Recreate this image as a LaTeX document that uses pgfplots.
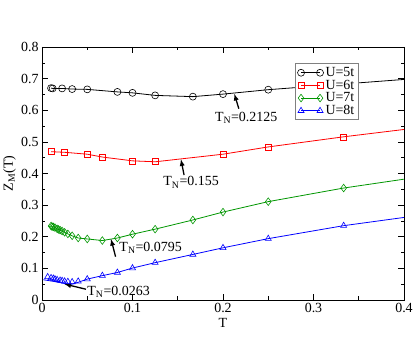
\documentclass[border=0pt]{standalone}
\usepackage{fontspec}
\setmainfont{Liberation Serif}
\usepackage{pgfplots}
\pgfplotsset{compat=1.18}
\usetikzlibrary{calc}

\definecolor{ggreen}{RGB}{0,150,0}

\begin{document}
\begin{tikzpicture}
\begin{axis}[
    name=ax,
    scale only axis,
    width=362bp, height=253bp,
    xmin=0, xmax=0.4,
    ymin=0, ymax=0.8,
    xtick={0,0.1,0.2,0.3,0.4},
    ytick={0,0.1,...,0.8},
    minor tick num=1,
    tick align=inside,
    major tick length=6bp,
    minor tick length=3.5bp,
    every tick/.style={black, line width=0.6bp},
    axis line style={line width=0.8bp},
    font=\fontsize{14}{16}\selectfont,
    /pgf/number format/assume math mode=true,
    /pgf/number format/.cd, fixed, precision=1,
    /pgfplots/.cd,
    xlabel={T},
    ylabel={Z\textsubscript{M}(T)},
    xlabel style={at={(axis description cs:0.5,-0.09)}, anchor=center},
    ylabel style={at={(axis description cs:-0.09,0.5)}, anchor=center},
    legend cell align=left,
    legend style={at={(rel axis cs:0.699,0.935)}, anchor=north west,
        draw=gray, line width=1bp, inner xsep=2bp, inner ysep=1.5bp,
        row sep=-2bp, font=\fontsize{14}{14}\selectfont},
    legend image code/.code={\draw plot coordinates {(0bp,0bp) (19bp,0bp)};},
    every axis plot/.append style={line width=0.8bp},
]
% U=5t
\addplot[black, mark=o, mark size=3.5bp, mark options={line width=0.6bp}] coordinates {
    (0.01,0.670) (0.0118,0.669) (0.0222,0.669) (0.0333,0.667) (0.05,0.666)
    (0.0833,0.658) (0.1,0.655) (0.125,0.647) (0.1667,0.643) (0.2,0.651)
    (0.25,0.665) (0.3333,0.683) (0.5,0.719)
};
\addlegendentry{U=5t}
% U=6t
\addplot[red, mark=square, mark size=3bp, mark options={line width=0.6bp}] coordinates {
    (0.01,0.469) (0.025,0.467) (0.05,0.461) (0.0667,0.452) (0.1,0.440)
    (0.125,0.437) (0.2,0.461) (0.25,0.484) (0.3333,0.516) (0.5,0.574)
};
\addlegendentry{U=6t}
% U=7t
\addplot[ggreen, mark=diamond, mark size=3.8bp, mark options={line width=0.6bp}] coordinates {
    (0.01,0.234) (0.0111,0.232) (0.0125,0.231) (0.0143,0.229) (0.0167,0.225)
    (0.0182,0.223) (0.02,0.221) (0.0222,0.218) (0.025,0.214) (0.0286,0.209)
    (0.0333,0.203) (0.04,0.196) (0.05,0.193) (0.0667,0.188) (0.0833,0.196)
    (0.1,0.208) (0.125,0.224) (0.1667,0.253) (0.2,0.278) (0.25,0.311)
    (0.3333,0.354) (0.5,0.424)
};
\addlegendentry{U=7t}
% U=8t
\addplot[blue, mark=triangle, mark size=3.5bp, mark options={line width=0.6bp}] coordinates {
    (0.05,0.066) (0.0667,0.077) (0.0833,0.087) (0.1,0.101) (0.125,0.118)
    (0.1667,0.144) (0.2,0.165) (0.25,0.194) (0.3333,0.235) (0.5,0.300)
};
\addlegendentry{U=8t}
\addplot[blue, no marks, forget plot] coordinates {
    (0.0015,0.064) (0.0125,0.059) (0.025,0.052) (0.033,0.050) (0.04,0.056) (0.05,0.066)
};
\addplot[blue, only marks, mark=triangle, mark size=3.5bp, mark options={line width=0.6bp}, forget plot] coordinates {
    (0.00625,0.073) (0.01,0.070) (0.0125,0.068) (0.0143,0.066) (0.0167,0.064)
    (0.02,0.062) (0.0222,0.061) (0.025,0.059) (0.0286,0.058) (0.0333,0.057)
    (0.04,0.059)
};

% annotations
\draw[-latex, line width=1.3bp] (axis cs:0.2175,0.605) -- (axis cs:0.2125,0.652);
\node[anchor=west, inner sep=0pt] at (axis cs:0.191,0.576) {T\textsubscript{N}=0.2125};
\draw[-latex, line width=1.3bp] (axis cs:0.157,0.395) -- (axis cs:0.1535,0.445);
\node[anchor=west, inner sep=0pt] at (axis cs:0.134,0.372) {T\textsubscript{N}=0.155};
\draw[-latex, line width=1.3bp] (axis cs:0.0813,0.137) -- (axis cs:0.0762,0.193);
\node[anchor=west, inner sep=0pt] at (axis cs:0.0854,0.166) {T\textsubscript{N}=0.0795};
\draw[-latex, line width=1.3bp] (axis cs:0.0486,0.034) -- (axis cs:0.0247,0.0505);
\node[anchor=west, inner sep=0pt] at (axis cs:0.050,0.027) {T\textsubscript{N}=0.0263};
\end{axis}
\pgfresetboundingbox
\path[use as bounding box] ($(ax.south west)+(-42bp,-38bp)$) rectangle ($(ax.north east)+(11bp,47bp)$);
\end{tikzpicture}
\end{document}
